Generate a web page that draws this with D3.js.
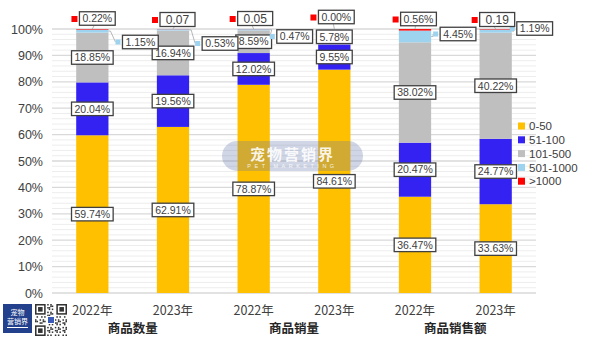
<!DOCTYPE html>
<html><head><meta charset="utf-8">
<script src="https://cdn.jsdelivr.net/npm/d3@7"></script>
<style>html,body{margin:0;padding:0;background:#fff;}svg{display:block;}</style>
</head><body>
<svg id="chart" width="600" height="338"></svg>
<script>
const categories = ["2022年","2023年","2022年","2023年","2022年","2023年"];
const groups = ["商品数量","商品销量","商品销售额"];
const seriesNames = ["0-50","51-100","101-500","501-1000",">1000"];
const s0_50     = [59.74, 62.91, 78.87, 84.61, 36.47, 33.63];
const s51_100   = [20.04, 19.56, 12.02, 9.55, 20.47, 24.77];
const s101_500  = [18.85, 16.94, 8.59, 5.78, 38.02, 40.22];
const s501_1000 = [1.15, 0.53, 0.47, 0.06, 4.45, 1.19];
const sOver1000 = [0.22, 0.07, 0.05, 0.00, 0.56, 0.19];
const topLabels = ["0.22%","0.07","0.05","0.00%","0.56%","0.19"];
const labels501 = ["1.15%","0.53%","0.47%",null,"4.45%","1.19%"];
const yTicks = [0,10,20,30,40,50,60,70,80,90,100];

const colors = ["#FFC000","#3322F2","#BFBFBF","#9DD3EE","#FF0000"];
// callout layout offsets (pixels)
const topDx = [5,4.5,1.5,2,3.5,1.5];
const topCy = [18.5,19.5,18.5,17,19,19.5];
const c501Dx = [14,13,7,0,9,5];
const c501Cy = [42,43.5,36.5,0,34,28.5];

const FONT = "'Liberation Sans', Arial, sans-serif";
const CJK = "'Noto Sans CJK SC', 'Liberation Sans', sans-serif";
const svg = d3.select("#chart");

const rows = categories.map((c,i)=>({i, a:s0_50[i], b:s51_100[i], c:s101_500[i], d:s501_1000[i], e:sOver1000[i]}));
const keys = ["a","b","c","d","e"];
const stack = d3.stack().keys(keys)(rows);

const x = d3.scaleBand().domain(d3.range(categories.length)).range([52,536]).paddingInner(0.6).paddingOuter(0.3);
const y = d3.scaleLinear().domain([0,100]).range([293,29]);

// gridlines
const minor = d3.range(0,101,2).filter(v=>v%10!==0);
svg.append("g").selectAll("line").data(minor).join("line")
  .attr("x1",52).attr("x2",536).attr("y1",d=>y(d)).attr("y2",d=>y(d))
  .attr("stroke","#ededed").attr("stroke-width",1);
svg.append("g").selectAll("line").data(yTicks).join("line")
  .attr("x1",52).attr("x2",536).attr("y1",d=>y(d)).attr("y2",d=>y(d))
  .attr("stroke","#d9d9d9").attr("stroke-width",1.3);

// y axis labels
const yAxis = svg.append("g").attr("transform","translate(45,0)")
  .call(d3.axisLeft(y).tickValues(yTicks).tickFormat(d=>d+"%").tickSize(0).tickPadding(2));
yAxis.select(".domain").remove();
yAxis.selectAll("text").attr("font-family",FONT).attr("font-size",12.5).attr("fill","#404040");

// bars
svg.append("g").selectAll("g").data(stack).join("g")
  .attr("fill",(d,i)=>colors[i])
  .selectAll("rect").data(d=>d).join("rect")
  .attr("x",d=>x(d.data.i)).attr("width",x.bandwidth())
  .attr("y",d=>y(d[1])).attr("height",d=>Math.max(0,y(d[0])-y(d[1])));

// watermark
const wm = svg.append("g");
wm.append("rect").attr("x",222).attr("y",141).attr("width",141).attr("height",30).attr("rx",15)
  .attr("fill","rgb(100,120,170)").attr("fill-opacity",0.3);
wm.append("text").attr("x",292.5).attr("y",159.5).attr("text-anchor","middle")
  .attr("font-family",CJK).attr("font-weight","bold").attr("font-size",15).attr("letter-spacing",2)
  .attr("fill","#fff").attr("fill-opacity",0.9).text("宠物营销界");
wm.append("text").attr("x",292.5).attr("y",167.5).attr("text-anchor","middle")
  .attr("font-family",FONT).attr("font-size",5.5).attr("letter-spacing",3.5)
  .attr("fill","#fff").attr("fill-opacity",0.85).text("PET MARKETING");

// label helper
const lab = svg.append("g");
function box(cx, cy, txt, opts={}){
  const fs = opts.fs || 10.5;
  const g = lab.append("g");
  const r = g.append("rect");
  const t = g.append("text").attr("x",cx).attr("y",cy).attr("text-anchor","middle").attr("dy","0.36em")
    .attr("font-family",FONT).attr("font-size",fs).attr("fill","#404040").text(txt);
  const w = Math.max(t.node().getComputedTextLength() + (opts.pad||3)*2, opts.minW||0);
  const h = opts.h || 13.5;
  r.attr("x",cx-w/2).attr("y",cy-h/2).attr("width",w).attr("height",h)
   .attr("fill","#fff").attr("stroke","#404040").attr("stroke-width",1.3);
  return {x0:cx-w/2, x1:cx+w/2, y0:cy-h/2, y1:cy+h/2};
}
const fmt = d3.format(".2f");

// inside labels for first three series
stack.slice(0,3).forEach(ser=>{
  ser.forEach(d=>{
    const cx = x(d.data.i)+x.bandwidth()/2;
    const cy = y((d[0]+d[1])/2);
    box(cx, cy, fmt(d[1]-d[0])+"%");
  });
});

// 501-1000 callouts
stack[3].forEach((d,i)=>{
  if(!labels501[i]) return;
  const right = x(i)+x.bandwidth();
  const segY = y((d[0]+d[1])/2);
  const left = right + c501Dx[i];
  const cy = c501Cy[i];
  lab.append("polyline")
    .attr("points",[[right,segY],[right+2,segY],[left-7,cy]].map(p=>p.join(",")).join(" "))
    .attr("fill","none").attr("stroke","#a6a6a6").attr("stroke-width",0.8);
  lab.append("rect").attr("x",left-7).attr("y",cy-2.5).attr("width",5).attr("height",5).attr("fill",colors[3]);
  const tmp = lab.append("text").attr("font-family",FONT).attr("font-size",10.5).text(labels501[i]);
  const w = tmp.node().getComputedTextLength()+6; tmp.remove();
  box(left + w/2, cy, labels501[i]);
});

// >1000 callouts
stack[4].forEach((d,i)=>{
  const cx = x(i)+x.bandwidth()/2;
  const bcx = cx + topDx[i];
  const cy = topCy[i];
  const noPct = topLabels[i].indexOf("%")<0;
  const b = box(bcx, cy, topLabels[i], noPct ? {fs:12, minW:35, h:14} : {});
  lab.append("line").attr("x1",bcx-3).attr("y1",b.y1).attr("x2",cx).attr("y2",y(d[1]))
    .attr("stroke","#a6a6a6").attr("stroke-width",0.8).lower();
  lab.append("rect").attr("x",b.x0-8).attr("y",cy-2.5).attr("width",6).attr("height",6).attr("fill",colors[4]);
});

// x labels
svg.append("g").selectAll("text").data(categories).join("text")
  .attr("x",(d,i)=>x(i)+x.bandwidth()/2).attr("y",310).attr("dy","0.36em").attr("text-anchor","middle")
  .attr("font-family",CJK).attr("font-size",12.5).attr("fill","#404040").text(d=>d);
svg.append("g").selectAll("text").data(groups).join("text")
  .attr("x",(d,i)=>(x(2*i)+x(2*i+1))/2 + x.bandwidth()/2).attr("y",328).attr("dy","0.36em").attr("text-anchor","middle")
  .attr("font-family",CJK).attr("font-weight","bold").attr("font-size",12.5).attr("fill","#262626").text(d=>d);

// legend
const lg = svg.append("g").selectAll("g").data(seriesNames).join("g")
  .attr("transform",(d,i)=>`translate(518,${126+i*13.8})`);
lg.append("rect").attr("x",0).attr("y",-3.5).attr("width",7).attr("height",7).attr("fill",(d,i)=>colors[i]);
lg.append("text").attr("x",11).attr("dy","0.36em").attr("font-family",FONT).attr("font-size",11.5)
  .attr("fill","#404040").text(d=>d);

// logo
const logo = svg.append("g");
logo.append("rect").attr("x",3).attr("y",304).attr("width",29).attr("height",29).attr("fill","#22408c");
logo.append("text").attr("x",17.5).attr("y",315).attr("text-anchor","middle").attr("font-family",CJK)
  .attr("font-size",7).attr("fill","#fff").text("宠物");
logo.append("text").attr("x",17.5).attr("y",324).attr("text-anchor","middle").attr("font-family",CJK)
  .attr("font-size",7).attr("fill","#fff").text("营销界");
logo.append("line").attr("x1",7).attr("x2",28).attr("y1",327.5).attr("y2",327.5).attr("stroke","#fff").attr("stroke-width",1);

// QR-like decoration
const qr = svg.append("g").attr("transform","translate(35,304)");
const N = 21, m = 32/N;
qr.append("rect").attr("width",32).attr("height",32).attr("fill","#fff");
const cells = [];
for(let r=0;r<N;r++) for(let c=0;c<N;c++){
  const inF = (r<8&&c<8)||(r<8&&c>=N-8)||(r>=N-8&&c<8);
  if(inF) continue;
  if(((r*31 + c*17 + r*c*7) % 5) < 2) cells.push([r,c]);
}
qr.selectAll("rect.c").data(cells).join("rect").attr("class","c")
  .attr("x",d=>d[1]*m).attr("y",d=>d[0]*m).attr("width",m).attr("height",m).attr("fill","#333");
[[0,0],[0,N-7],[N-7,0]].forEach(([r,c])=>{
  qr.append("rect").attr("x",c*m+m/2).attr("y",r*m+m/2).attr("width",6*m).attr("height",6*m).attr("fill","none").attr("stroke","#333").attr("stroke-width",m);
  qr.append("rect").attr("x",(c+2)*m).attr("y",(r+2)*m).attr("width",3*m).attr("height",3*m).attr("fill","#333");
});
qr.append("rect").attr("x",12).attr("y",12).attr("width",8).attr("height",8).attr("fill","#fff");
qr.append("rect").attr("x",13).attr("y",13).attr("width",6).attr("height",6).attr("fill","#3a5bb8");
</script>
</body></html>
